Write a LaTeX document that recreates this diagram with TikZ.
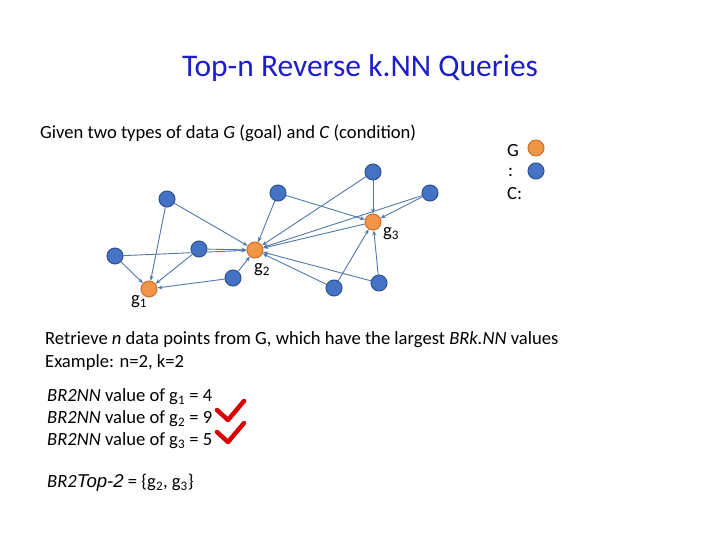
\documentclass[tikz,border=0pt]{standalone}
\usepackage{fontspec}
\setmainfont{Carlito}
\newfontfamily\arialf{Liberation Sans}
\usetikzlibrary{arrows.meta}
\definecolor{edge}{RGB}{80,120,170}
\definecolor{cfill}{RGB}{68,114,196}
\definecolor{cdraw}{RGB}{47,82,143}
\definecolor{gfill}{RGB}{240,150,70}
\definecolor{gdraw}{RGB}{200,110,50}
\definecolor{ttl}{RGB}{30,30,200}
\tikzset{
 cn/.style={circle,fill=cfill,draw=cdraw,line width=1pt,minimum size=16pt,inner sep=0pt},
 gn/.style={circle,fill=gfill,draw=gdraw,line width=1pt,minimum size=16pt,inner sep=0pt},
 e/.style={draw=edge,line width=0.9pt,-{Stealth[length=5pt,width=4pt]}},
 txt/.style={anchor=west,inner sep=0pt,font=\fontsize{18.6}{22}\selectfont},
 chk/.style={red!85!black,line width=4.5pt,line cap=round,line join=round}
}
\begin{document}
\begin{tikzpicture}[x=1pt,y=-1pt]
\useasboundingbox (0,0) rectangle (720,540);
\node[font=\fontsize{31.5}{36}\selectfont,text=ttl] (title) at (360,68) {Top-n Reverse k.NN Queries};
\node[txt] (given) at (40,133) {Given two types of data \textit{G} (goal) and \textit{C} (condition)};
% nodes
\node[cn] (c1) at (167,199) {};
\node[cn] (c2) at (278,193) {};
\node[cn] (c3) at (373,172) {};
\node[cn] (c4) at (430,193) {};
\node[cn] (c5) at (115,256) {};
\node[cn] (c6) at (199,249) {};
\node[cn] (c7) at (233,278) {};
\node[cn] (c8) at (334,288) {};
\node[cn] (c9) at (379,283) {};
\node[gn] (g1) at (149,289) {};
\node[gn] (g2) at (255,250) {};
\node[gn] (g3) at (373,222) {};
\foreach \a/\b in {c1/g1,c1/g2,c5/g1,c5/g2,c6/g2,c6/g1,c7/g1,c7/g2,c2/g2,c2/g3,c3/g2,c3/g3,c4/g2,c4/g3,g3/g2,c8/g2,c8/g3,c9/g2,c9/g3}
  \draw[e] (\a) -- (\b);
\node[txt] (lg1) at (131,302) {g\textsubscript{1}};
\node[txt] (lg2) at (254,270) {g\textsubscript{2}};
\node[txt] (lg3) at (383,234) {g\textsubscript{3}};
% legend
\node[gn] (legG) at (536,148) {};
\node[cn] (legC) at (536,171) {};
\node[txt] (tG) at (507,151) {G};
\node[txt] (tcol) at (508,172) {:};
\node[txt] (tC) at (507,194) {C:};
% text
\node[txt] (r1) at (45,340) {Retrieve \textit{n} data points from G, which have the largest \textit{BRk.NN} values};
\node[txt] (r2) at (45,363) {Example: n=2, k=2};
\node[txt] (b1) at (47,397) {\textit{BR2NN} value of g\textsubscript{1} = 4};
\node[txt] (b2) at (47,419) {\textit{BR2NN} value of g\textsubscript{2} = 9};
\node[txt] (b3) at (47,441) {\textit{BR2NN} value of g\textsubscript{3} = 5};
\node[txt] (top) at (47,483) {\textit{BR2}{\arialf\itshape Top-2} = \{g\textsubscript{2}, g\textsubscript{3}\}};
\draw[chk] (217,410) -- (228,420) -- (244,401);
\draw[chk] (217,432) -- (228,442) -- (244,423);
\end{tikzpicture}
\end{document}
